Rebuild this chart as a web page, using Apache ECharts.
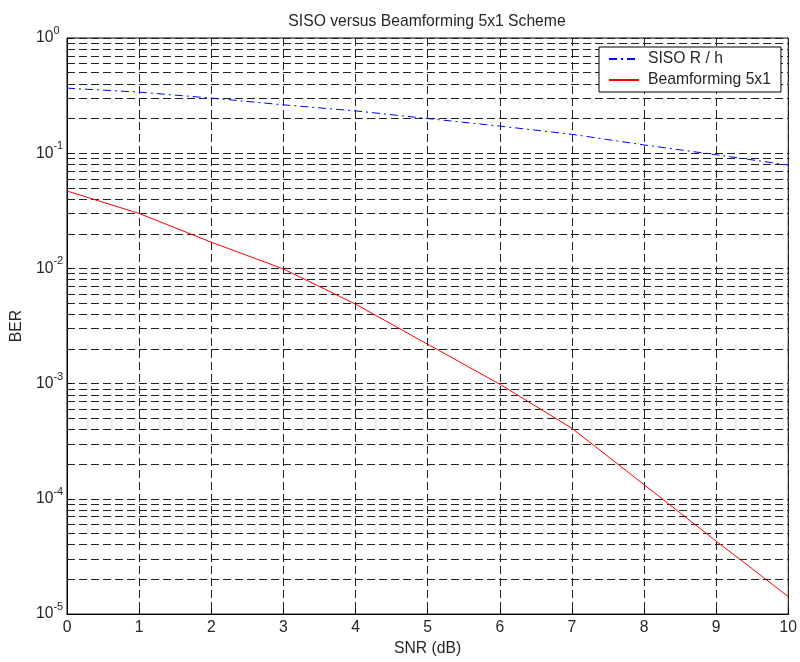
<!DOCTYPE html>
<html>
<head>
<meta charset="utf-8">
<title>SISO versus Beamforming 5x1 Scheme</title>
<script src="https://cdn.jsdelivr.net/npm/echarts@6/dist/echarts.min.js"></script>
<style>
  html, body { margin: 0; padding: 0; background: #fff; }
  #chart { width: 800px; height: 662px; }
</style>
</head>
<body>
<div id="chart"></div>
<script>
// SNR points (dB)
var snr = [0, 1, 2, 3, 4, 5, 6, 7, 8, 9, 10];
// BER
var sisoBer = [0.367, 0.339, 0.301, 0.263, 0.233, 0.200, 0.172, 0.146, 0.118, 0.097, 0.079];
var bfBer = [0.047, 0.030, 0.0169, 0.0099, 0.0049, 0.0022, 0.00099, 0.00041, 0.000133, 0.000043, 0.0000142];
// minor grid (2..9 in every decade)
var minorMultipliers = [2, 3, 4, 5, 6, 7, 8, 9];
var decades = [-5, -4, -3, -2, -1];

var myChart = echarts.init(document.getElementById('chart'));

var gridDash = { color: '#222', width: 1, type: [8, 4] };

var minorLines = [];
decades.forEach(function (d) {
  minorMultipliers.forEach(function (k) {
    minorLines.push({ yAxis: k * Math.pow(10, d) });
  });
});

function pairs(ys) {
  return snr.map(function (x, i) { return [x, ys[i]]; });
}

var labelFont = 'Liberation Sans, Arial, sans-serif';

var option = {
  animation: false,
  backgroundColor: '#fff',
  title: {
    text: 'SISO versus Beamforming 5x1 Scheme',
    left: 422,
    textAlign: 'center',
    top: 9,
    textStyle: { fontFamily: labelFont, fontSize: 15.7, fontWeight: 'normal', color: '#262626' }
  },
  legend: {
    orient: 'vertical',
    left: 599,
    top: 47,
    z: 20,
    padding: [4, 10, 4, 9],
    itemWidth: 30,
    itemHeight: 14,
    itemGap: 5,
    backgroundColor: '#fff',
    borderColor: '#000',
    borderWidth: 1,
    borderRadius: 0,
    itemStyle: { opacity: 0 },
    textStyle: { fontFamily: labelFont, fontSize: 15.7, color: '#262626', padding: [0, 0, 0, 4] },
    data: ['SISO R / h', 'Beamforming 5x1']
  },
  grid: {
    left: 67,
    right: 11,
    top: 38,
    bottom: 46,
    show: true,
    borderColor: '#000',
    borderWidth: 1
  },
  xAxis: {
    type: 'value',
    min: 0,
    max: 10,
    interval: 1,
    name: 'SNR (dB)',
    nameLocation: 'middle',
    nameGap: 24,
    nameTextStyle: { fontFamily: labelFont, fontSize: 15.7, color: '#262626' },
    axisLine: { lineStyle: { color: '#000' } },
    axisTick: { inside: true, length: 5, lineStyle: { color: '#000' } },
    axisLabel: { fontFamily: labelFont, fontSize: 15.7, color: '#262626', margin: 6 },
    splitLine: { show: true, lineStyle: gridDash }
  },
  yAxis: {
    type: 'log',
    logBase: 10,
    min: 1e-5,
    max: 1,
    splitNumber: 5,
    name: 'BER',
    nameLocation: 'middle',
    nameGap: 39,
    nameTextStyle: { fontFamily: labelFont, fontSize: 15.7, color: '#262626' },
    axisLine: { show: true, lineStyle: { color: '#000' } },
    axisTick: { inside: true, length: 5, lineStyle: { color: '#000' } },
    axisLabel: {
      align: 'left',
      margin: 31,
      formatter: function (v) {
        var e = Math.round(Math.log10(v));
        return '{b|10}{s|' + e + '}';
      },
      rich: {
        b: { fontFamily: labelFont, fontSize: 15.7, color: '#262626', lineHeight: 25, verticalAlign: 'middle' },
        s: { fontFamily: labelFont, fontSize: 11, color: '#262626', verticalAlign: 'top' }
      }
    },
    splitLine: { show: true, lineStyle: gridDash }
  },
  series: [
    {
      name: 'SISO R / h',
      type: 'line',
      data: pairs(sisoBer),
      showSymbol: false,
      symbol: 'none',
      lineStyle: { color: '#0000ff', width: 1, type: [8, 4, 2, 4] },
      itemStyle: { color: '#0000ff' },
      z: 3
    },
    {
      name: 'Beamforming 5x1',
      type: 'line',
      data: pairs(bfBer),
      showSymbol: false,
      symbol: 'none',
      lineStyle: { color: '#ff0000', width: 1 },
      itemStyle: { color: '#ff0000' },
      z: 3,
      markLine: {
        silent: true,
        z: 1,
        precision: 10,
        symbol: ['none', 'none'],
        label: { show: false },
        lineStyle: gridDash,
        emphasis: { disabled: true },
        data: minorLines
      }
    }
  ]
};

myChart.setOption(option);
</script>
</body>
</html>
